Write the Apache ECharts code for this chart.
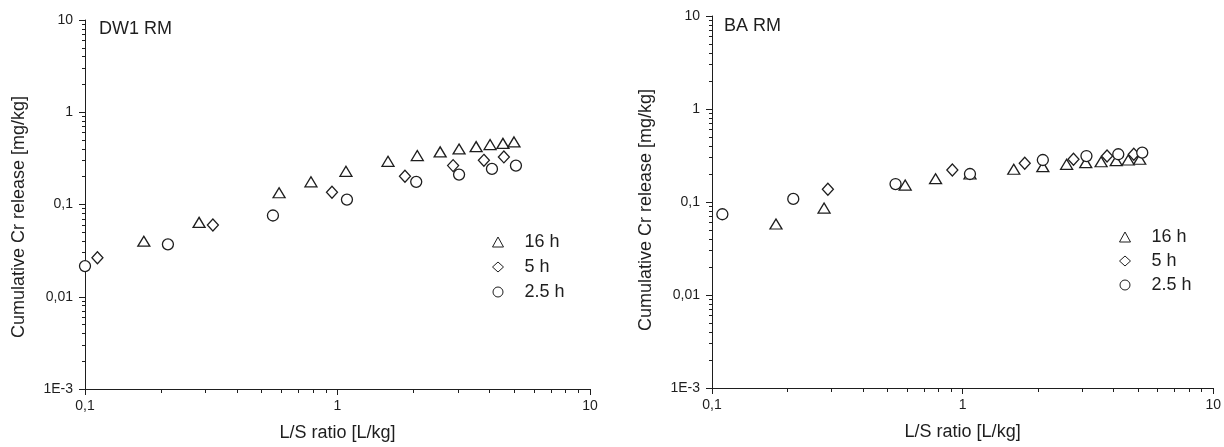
<!DOCTYPE html>
<html lang="en">

<head>
    <meta charset="UTF-8">
    <title>Cumulative Cr release</title>
    <script type="text/javascript" src="https://cdn.jsdelivr.net/npm/echarts@6/dist/echarts.min.js"></script>
    <style>
        html,
        body {
            margin: 0;
            padding: 0;
            background: #fff;
        }

        #main {
            width: 1224px;
            height: 447px;
        }
    </style>
</head>

<body>
    <div id="main"></div>

    <script type="text/javascript">
        // tick labels (decimal comma as in the original)
        var xTickLabels = ['0,1', '1', '10']
        var yTickLabels = ['1E-3', '0,01', '0,1', '1', '10']
        var seriesNames = ['16 h', '5 h', '2.5 h']

        // DW1 RM
        var dw1_16h_x = [0.171, 0.283, 0.587, 0.785, 1.08, 1.585, 2.07, 2.55, 3.03, 3.54, 4.02, 4.52, 5.0]
        var dw1_16h_y = [0.040, 0.064, 0.134, 0.176, 0.229, 0.294, 0.339, 0.372, 0.40, 0.424, 0.446, 0.46, 0.477]
        var dw1_5h_x = [0.112, 0.321, 0.951, 1.85, 2.87, 3.80, 4.56]
        var dw1_5h_y = [0.0265, 0.060, 0.136, 0.202, 0.264, 0.301, 0.328]
        var dw1_25h_x = [0.1, 0.213, 0.555, 1.09, 2.05, 3.03, 4.09, 5.09]
        var dw1_25h_y = [0.0215, 0.037, 0.076, 0.113, 0.176, 0.211, 0.243, 0.264]

        // BA RM
        var ba_16h_x = [0.18, 0.28, 0.59, 0.78, 1.07, 1.6, 2.09, 2.6, 3.1, 3.57, 4.1, 4.58, 5.09]
        var ba_16h_y = [0.058, 0.086, 0.152, 0.178, 0.2, 0.225, 0.24, 0.254, 0.265, 0.271, 0.278, 0.283, 0.288]
        var ba_5h_x = [0.29, 0.91, 1.77, 2.77, 3.77, 4.82]
        var ba_5h_y = [0.137, 0.221, 0.261, 0.288, 0.312, 0.326]
        var ba_25h_x = [0.11, 0.211, 0.54, 1.07, 2.09, 3.12, 4.18, 5.21]
        var ba_25h_y = [0.0738, 0.108, 0.156, 0.2, 0.283, 0.312, 0.326, 0.339]

        var ink = '#1e1e1e'
        var font = 'Liberation Sans, Arial, sans-serif'

        function pairs(xs, ys) {
            var out = []
            for (var i = 0; i < xs.length; i++) {
                out.push([xs[i], ys[i]])
            }
            return out
        }

        function xAxisOf(gridIndex) {
            return {
                type: 'log',
                logBase: 10,
                gridIndex: gridIndex,
                min: 0.1,
                max: 10,
                name: 'L/S ratio [L/kg]',
                nameLocation: 'middle',
                nameGap: 35,
                nameTextStyle: { color: ink, fontSize: 18, fontFamily: font },
                axisLine: { show: true, lineStyle: { color: ink, width: 1 } },
                axisTick: { show: true, length: 6, lineStyle: { color: ink } },
                minorTick: { show: true, splitNumber: 9, length: 4, lineStyle: { color: ink } },
                splitLine: { show: false },
                minorSplitLine: { show: false },
                axisLabel: {
                    color: ink,
                    fontSize: 14,
                    fontFamily: font,
                    margin: 10,
                    showMinLabel: true,
                    showMaxLabel: true,
                    formatter: function (value, index) {
                        return xTickLabels[index]
                    }
                }
            }
        }

        function yAxisOf(gridIndex, shift) {
            return {
                type: 'log',
                logBase: 10,
                gridIndex: gridIndex,
                min: 0.001,
                max: 10,
                name: 'Cumulative Cr release [mg/kg]',
                nameLocation: 'middle',
                nameGap: 57,
                nameTextStyle: { color: ink, fontSize: 18, fontFamily: font, padding: [0, shift, 0, 0] },
                axisLine: { show: true, lineStyle: { color: ink, width: 1 } },
                axisTick: { show: true, length: 6, lineStyle: { color: ink } },
                minorTick: { show: true, splitNumber: 9, length: 3, lineStyle: { color: ink } },
                splitLine: { show: false },
                minorSplitLine: { show: false },
                axisLabel: {
                    color: ink,
                    fontSize: 14,
                    fontFamily: font,
                    margin: 12,
                    showMinLabel: true,
                    showMaxLabel: true,
                    formatter: function (value, index) {
                        return yTickLabels[index]
                    }
                }
            }
        }

        function scatterOf(name, symbol, size, idx, xs, ys) {
            return {
                name: name,
                type: 'scatter',
                xAxisIndex: idx,
                yAxisIndex: idx,
                symbol: symbol,
                symbolSize: size,
                itemStyle: { color: '#fff', borderColor: ink, borderWidth: 1.3, opacity: 1 },
                emphasis: { disabled: true },
                data: pairs(xs, ys)
            }
        }

        function legendOf(left, top, gap) {
            return {
                orient: 'vertical',
                left: left,
                top: top,
                padding: 0,
                itemGap: gap,
                itemWidth: 11,
                itemHeight: 10,
                data: seriesNames,
                itemStyle: { borderWidth: 1 },
                textStyle: { color: ink, fontSize: 18, fontFamily: font, padding: [0, 0, 0, 16] }
            }
        }

        var myChart = echarts.init(document.getElementById('main'))
        var option = {
            animation: false,
            backgroundColor: '#fff',
            title: [{
                text: 'DW1 RM', left: 99, top: 20, padding: 0,
                textStyle: { color: ink, fontSize: 18, fontWeight: 'normal', fontFamily: font }
            }, {
                text: 'BA RM', left: 724, top: 17, padding: 0,
                textStyle: { color: ink, fontSize: 18, fontWeight: 'normal', fontFamily: font }
            }],
            legend: [legendOf(492, 233, 7), legendOf(1119, 228, 6)],
            grid: [
                { left: 85, right: 634, top: 20, bottom: 57 },
                { left: 712, right: 7, top: 16, bottom: 59 }
            ],
            xAxis: [xAxisOf(0), xAxisOf(1)],
            yAxis: [yAxisOf(0, 25), yAxisOf(1, 16)],
            series: [
                scatterOf(seriesNames[0], 'triangle', [12, 10], 0, dw1_16h_x, dw1_16h_y),
                scatterOf(seriesNames[1], 'diamond', [11, 12], 0, dw1_5h_x, dw1_5h_y),
                scatterOf(seriesNames[2], 'circle', 11, 0, dw1_25h_x, dw1_25h_y),
                scatterOf(seriesNames[0], 'triangle', [12, 10], 1, ba_16h_x, ba_16h_y),
                scatterOf(seriesNames[1], 'diamond', [11, 12], 1, ba_5h_x, ba_5h_y),
                scatterOf(seriesNames[2], 'circle', 11, 1, ba_25h_x, ba_25h_y)
            ]
        }

        myChart.setOption(option)
        window.addEventListener('resize', function () {
            myChart.resize()
        })
    </script>
</body>

</html>
